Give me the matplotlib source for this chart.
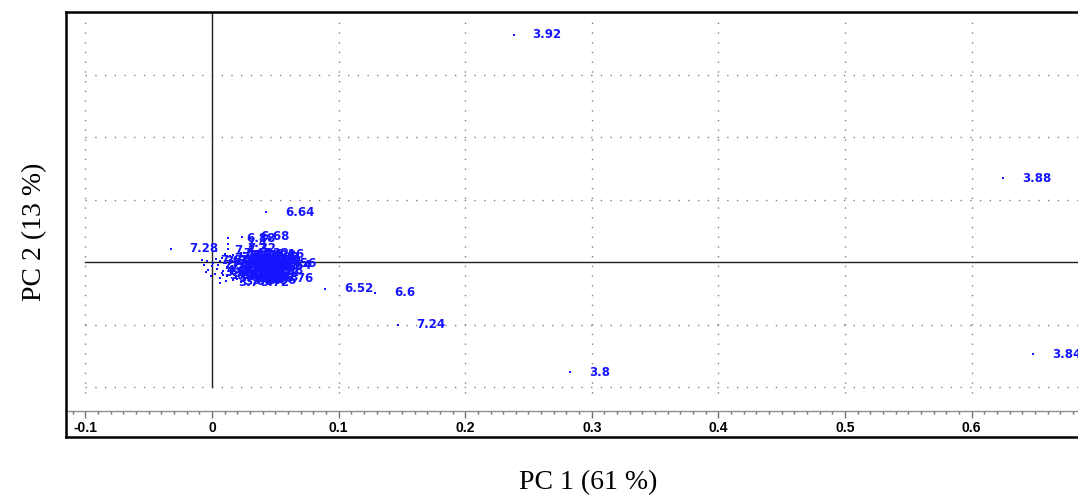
import matplotlib
matplotlib.use("Agg")
import matplotlib.pyplot as plt
from matplotlib.ticker import MultipleLocator

# sample scores: outer (labelled) samples first, then the dense cluster
pc1 = [-0.0324, 0.0427, 0.0893, 0.1288, 0.1469, 0.2385, 0.2828, 0.6248, 0.6485,
       0.010, 0.017, 0.023, 0.029, 0.035, 0.041,
       0.003, 0.008, 0.014, 0.019, 0.026, 0.031, 0.038, 0.044, 0.049,
       -0.004, 0.001, 0.006, 0.011, 0.016, 0.022, 0.027, 0.033, 0.039, 0.045, 0.051,
       -0.006, 0.000, 0.005, 0.012, 0.018, 0.024, 0.030, 0.036, 0.041, 0.047, 0.053,
       -0.003, 0.004, 0.009, 0.015, 0.021, 0.027, 0.034, 0.040, 0.046, 0.052,
       0.002, 0.008, 0.013, 0.019, 0.025, 0.031, 0.037, 0.043, 0.049,
       0.006, 0.012, 0.018, 0.024, 0.030, 0.036, 0.042,
       0.011, 0.017, 0.023, 0.029, 0.035,
       -0.008, -0.005, -0.001, 0.003, 0.0126, 0.0126, 0.0237, 0.013, 0.053, 0.058,
       0.056, 0.040, 0.045, 0.006,
       0.014, 0.020, 0.026, 0.032, 0.038, 0.044, 0.017, 0.023, 0.029, 0.035,
       0.041, 0.009, 0.015, 0.021, 0.027, 0.033, 0.039, 0.020, 0.026, 0.032]
pc2 = [0.0208, 0.080, -0.0432, -0.0496, -0.1008, 0.3632, -0.176, 0.1344, -0.1472,
       0.013, 0.011, 0.014, 0.010, 0.012, 0.009,
       0.005, 0.007, 0.004, 0.008, 0.005, 0.007, 0.004, 0.006, 0.003,
       0.001, -0.002, 0.002, -0.001, 0.001, -0.002, 0.002, -0.001, 0.001, -0.002, 0.000,
       -0.005, -0.007, -0.004, -0.008, -0.005, -0.007, -0.004, -0.008, -0.005, -0.007, -0.006,
       -0.013, -0.011, -0.014, -0.010, -0.013, -0.011, -0.014, -0.012, -0.010, -0.013,
       -0.019, -0.017, -0.020, -0.016, -0.019, -0.017, -0.020, -0.018, -0.016,
       -0.025, -0.023, -0.026, -0.022, -0.025, -0.023, -0.026,
       -0.031, -0.029, -0.032, -0.030, -0.031,
       0.003, -0.016, -0.022, 0.018, 0.029, 0.038, 0.040, 0.021, -0.022, -0.010,
       0.004, -0.030, -0.028, -0.033,
       0.009, 0.002, 0.009, 0.003, 0.008, 0.002, -0.009, -0.003, -0.009, -0.002,
       -0.009, -0.021, -0.015, -0.021, -0.016, -0.021, -0.015, -0.027, -0.028, -0.026]
sample_labels = ['7.28', '6.64', '6.52', '6.6', '7.24', '3.92', '3.8', '3.88', '3.84',
                 '7.44', '7.36', '7.32', '7.08', '7.16', '',
                 '7.4', '7.12', '7.04', '6.96', '7.0', '6.92', '', '', '',
                 '7.52', '7.48', '7.24', '7.28', '7.12', '7.04', '6.96', '6.88', '', '6.56', '',
                 '7.56', '7.44', '7.36', '7.2', '7.16', '7.08', '7.0', '', '6.64', '', '',
                 '4.0', '3.96', '7.32', '7.24', '7.12', '6.96', '6.88', '', '', '',
                 '3.9', '3.86', '3.82', '3.78', '3.74', '3.72', '', '', '',
                 '3.66', '3.64', '3.62', '3.6', '3.58', '', '6.76',
                 '3.68', '3.76', '3.72', '3.56', '',
                 '7.6', '3.98', '3.94', '7.4', '7.4', '6.88', '6.68', '7.32', '', '',
                 '', '', '', '3.7',
                 '7.2', '7.08', '7.0', '6.92', '', '', '7.16', '7.04', '6.96', '',
                 '', '3.84', '3.8', '3.74', '3.7', '', '', '3.62', '3.6', '']

x_ticks = [-0.1, 0, 0.1, 0.2, 0.3, 0.4, 0.5, 0.6]
x_tick_labels = ['-0.1', '0', '0.1', '0.2', '0.3', '0.4', '0.5', '0.6']
grid_x = [-0.1, 0.1, 0.2, 0.3, 0.4, 0.5, 0.6]
grid_y = [0.3, 0.2, 0.1, -0.1, -0.2]

blue = '#1414ff'

fig = plt.figure(figsize=(10.78, 4.95), dpi=100)
ax = fig.add_axes([66 / 1078, 58 / 495, 1016 / 1078, 425 / 495])
ax.set_xlim(-0.1153, 0.6872)
ax.set_ylim(-0.28, 0.40)
ax.set_xticks([])
ax.set_yticks([])
for s in ax.spines.values():
    s.set_linewidth(1.8)
    s.set_color('black')

# dotted grid
for gx in grid_x:
    ax.plot([gx, gx], [-0.21, 0.387], color='#808080', lw=1.0,
            linestyle=(0, (1, 6)), zorder=1)
for gy in grid_y:
    ax.plot([-0.1, 0.6872], [gy, gy], color='#808080', lw=1.0,
            linestyle=(0, (1, 6)), zorder=1)

# origin lines
ax.plot([0, 0], [-0.2, 0.40], color='#202020', lw=1.0, zorder=2)
ax.plot([-0.1, 0.6872], [0, 0], color='#202020', lw=1.0, zorder=2)

ax.scatter(pc1, pc2, s=4.5, color=blue, marker='s', linewidths=0, zorder=3)
for x, y, lab in zip(pc1, pc2, sample_labels):
    if lab:
        ax.annotate(lab, (x, y), xytext=(13.5, 0), textcoords='offset points',
                    va='center', ha='left', color=blue, fontsize=8.5,
                    fontweight='bold', family='DejaVu Sans', zorder=4,
                    annotation_clip=False)

# x axis ruler inside the frame
sec = ax.secondary_xaxis(26 / 425)
sec.set_xticks(x_ticks)
sec.set_xticklabels(x_tick_labels)
sec.xaxis.set_minor_locator(MultipleLocator(0.01))
sec.xaxis.set_ticks_position('bottom')
sec.tick_params(which='major', direction='out', length=5, width=1, color='#707070',
                pad=2, labelsize=10, labelcolor='black')
sec.tick_params(which='minor', direction='out', length=2.5, width=1, color='#707070')
for s in sec.spines.values():
    s.set_color('#909090')
    s.set_linewidth(1.0)
for t in sec.get_xticklabels():
    t.set_family('Liberation Sans')
    t.set_fontweight('bold')

fig.text(588 / 1078, 1 - 483 / 495, 'PC 1 (61 %)', ha='center', va='center',
         fontsize=20, family='Liberation Serif')
fig.text(35 / 1078, 1 - 232 / 495, 'PC 2 (13 %)', ha='center', va='center',
         rotation=90, fontsize=20, family='Liberation Serif')

fig.savefig('out.png', dpi=100)
